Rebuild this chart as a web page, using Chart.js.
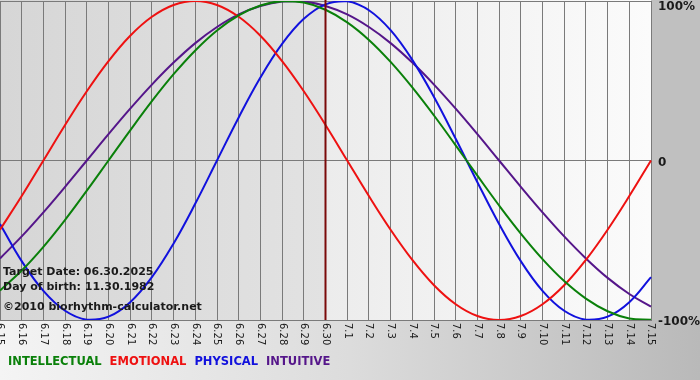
<!DOCTYPE html>
<html>
<head>
<meta charset="utf-8">
<script src="https://cdn.jsdelivr.net/npm/chart.js@4/dist/chart.umd.min.js"></script>
<style>
  html, body { margin: 0; padding: 0; }
  body { width: 700px; height: 380px; overflow: hidden; }
  #wrap { position: relative; width: 700px; height: 380px; }
</style>
</head>
<body>
<div id="wrap"><canvas id="bio"></canvas></div>
<script>
// days shown on the x axis
const dates = ["6.15", "6.16", "6.17", "6.18", "6.19", "6.20", "6.21", "6.22", "6.23", "6.24",
  "6.25", "6.26", "6.27", "6.28", "6.29", "6.30", "7.1", "7.2", "7.3", "7.4", "7.5", "7.6",
  "7.7", "7.8", "7.9", "7.10", "7.11", "7.12", "7.13", "7.14", "7.15"];
const targetDate = "6.30";

// cycle values, -1 .. 1
const intellectual = [-0.815, -0.690, -0.541, -0.372, -0.189, 0, 0.189, 0.372, 0.541, 0.690,
  0.815, 0.910, 0.972, 0.999, 0.990, 0.945, 0.866, 0.756, 0.618, 0.458, 0.282, 0.095,
  -0.095, -0.282, -0.458, -0.618, -0.756, -0.866, -0.945, -0.990, -0.999];
const emotional = [-0.434, -0.223, 0, 0.223, 0.434, 0.623, 0.782, 0.901, 0.975, 1.0,
  0.975, 0.901, 0.782, 0.623, 0.434, 0.223, 0, -0.223, -0.434, -0.623, -0.782, -0.901,
  -0.975, -1.0, -0.975, -0.901, -0.782, -0.623, -0.434, -0.223, 0];
const physical = [-0.398, -0.631, -0.817, -0.942, -0.998, -0.979, -0.888, -0.731, -0.520, -0.270,
  0, 0.270, 0.520, 0.731, 0.888, 0.979, 0.998, 0.942, 0.817, 0.631, 0.398, 0.136,
  -0.136, -0.398, -0.631, -0.817, -0.942, -0.998, -0.979, -0.888, -0.731];
const intuitive = [-0.614, -0.476, -0.325, -0.165, 0, 0.165, 0.325, 0.476, 0.614, 0.736,
  0.837, 0.916, 0.969, 0.997, 0.997, 0.969, 0.916, 0.837, 0.736, 0.614, 0.476, 0.325,
  0.165, 0, -0.165, -0.325, -0.476, -0.614, -0.736, -0.837, -0.916];

const yTicks = [1, 0, -1];
const yTickLabels = ["100%", "0", "-100%"];
const seriesNames = ["INTELLECTUAL", "EMOTIONAL", "PHYSICAL", "INTUITIVE"];
const seriesColors = ["#0a800a", "#ee1111", "#1111dd", "#55168a"];
const infoLines = ["Target Date: 06.30.2025", "Day of birth: 11.30.1982", "\u00a92010 biorhythm-calculator.net"];

const FONT = "'DejaVu Sans', Verdana, sans-serif";

// backgrounds, target marker, axis labels, legend and info text
const bioPlugin = {
  id: "bio",
  beforeDraw(chart) {
    const { ctx, chartArea: a, width, height } = chart;
    const tx = chart.scales.x.getPixelForValue(dates.indexOf(targetDate));
    ctx.save();
    let g = ctx.createLinearGradient(0, 0, width, 0);
    g.addColorStop(0, "#f4f4f4");
    g.addColorStop(0.5, "#dcdcdc");
    g.addColorStop(1, "#b9b9b9");
    ctx.fillStyle = g;
    ctx.fillRect(0, 0, width, height);
    ctx.fillStyle = "#c0c0c0";
    ctx.fillRect(a.right, 0, width - a.right, a.bottom);
    g = ctx.createLinearGradient(a.left, 0, tx, 0);
    g.addColorStop(0, "#d6d6d6");
    g.addColorStop(1, "#e2e2e2");
    ctx.fillStyle = g;
    ctx.fillRect(0, 0, tx, a.bottom);
    g = ctx.createLinearGradient(tx, 0, a.right, 0);
    g.addColorStop(0, "#ececec");
    g.addColorStop(1, "#fbfbfb");
    ctx.fillStyle = g;
    ctx.fillRect(tx, 0, a.right - tx, a.bottom);
    ctx.restore();
  },
  afterDatasetsDraw(chart) {
    const { ctx, chartArea: a } = chart;
    const x = chart.scales.x, y = chart.scales.y;
    const tx = x.getPixelForValue(dates.indexOf(targetDate));
    ctx.save();
    ctx.strokeStyle = "#7a0a0a";
    ctx.lineWidth = 2;
    ctx.beginPath();
    ctx.moveTo(tx, a.top - 1);
    ctx.lineTo(tx, a.bottom);
    ctx.stroke();

    // info text
    ctx.fillStyle = "#1a1a1a";
    ctx.font = "bold 11px " + FONT;
    ctx.textBaseline = "middle";
    ctx.textAlign = "left";
    [272, 287, 307].forEach((py, i) => ctx.fillText(infoLines[i], 3, py));

    // right axis labels
    ctx.font = "bold 12px " + FONT;
    yTicks.forEach((v, i) => {
      const py = Math.max(y.getPixelForValue(v) + 2, 7);
      ctx.fillText(yTickLabels[i], a.right + 7, py);
    });

    // rotated date labels
    ctx.font = "10px " + FONT;
    ctx.fillStyle = "#1a1a1a";
    dates.forEach((d, i) => {
      ctx.save();
      ctx.translate(x.getPixelForValue(i), a.bottom + 3);
      ctx.rotate(Math.PI / 2);
      ctx.textAlign = "left";
      ctx.textBaseline = "middle";
      ctx.fillText(d, 0, 0);
      ctx.restore();
    });

    // legend
    ctx.font = "bold 11.5px " + FONT;
    ctx.textBaseline = "middle";
    let lx = 8;
    seriesNames.forEach((n, i) => {
      ctx.fillStyle = seriesColors[i];
      ctx.fillText(n, lx, 362);
      lx += ctx.measureText(n).width + 8;
    });
    ctx.restore();
  }
};

const mk = (label, data, color) => ({
  label, data,
  borderColor: color,
  borderWidth: 2,
  pointRadius: 0,
  tension: 0.4,
  fill: false
});

new Chart(document.getElementById("bio"), {
  type: "line",
  data: {
    labels: dates,
    datasets: [
      mk(seriesNames[0], intellectual, seriesColors[0]),
      mk(seriesNames[1], emotional, seriesColors[1]),
      mk(seriesNames[2], physical, seriesColors[2]),
      mk(seriesNames[3], intuitive, seriesColors[3])
    ]
  },
  options: {
    responsive: true,
    maintainAspectRatio: false,
    animation: false,
    layout: { padding: { left: 0, top: 1, right: 49, bottom: 60 } },
    plugins: { legend: { display: false }, tooltip: { enabled: false } },
    scales: {
      x: {
        offset: false,
        ticks: { display: false },
        grid: { color: "#7a7a7a", drawTicks: false },
        border: { color: "#7a7a7a" }
      },
      y: {
        position: "right",
        min: -1,
        max: 1,
        ticks: { display: false, stepSize: 1 },
        grid: { color: "#7a7a7a", drawTicks: false },
        border: { display: false }
      }
    }
  },
  plugins: [bioPlugin]
});
</script>
</body>
</html>
